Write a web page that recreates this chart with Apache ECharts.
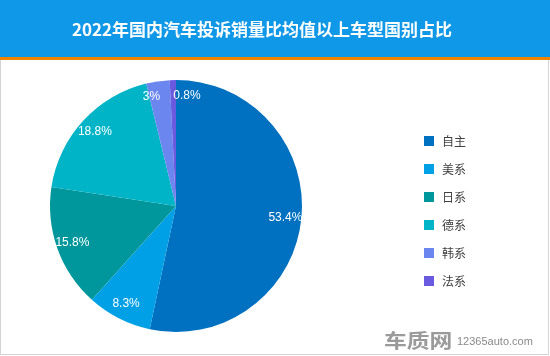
<!DOCTYPE html>
<html><head><meta charset="utf-8">
<script src="https://cdn.jsdelivr.net/npm/echarts@6/dist/echarts.min.js"></script>
<style>html,body{margin:0;padding:0;background:#fff}#c{width:550px;height:356px}</style>
</head><body><div id="c"></div>
<script>
const titleText = '2022年国内汽车投诉销量比均值以上车型国别占比';
const categories = ['自主', '美系', '日系', '德系', '韩系', '法系'];
const shares = [53.4, 8.3, 15.8, 18.8, 3, 0.8];
const colors = ['#0070c0', '#00a0e6', '#00979c', '#00b4c8', '#6b86ee', '#6a5ae0'];
// horizontal anchoring of each label relative to its slice: -1 right-aligned, 0 centred, 1 left-aligned
const labelAnchors = [0, 0, 0, 0, -1, 1];

const chart = echarts.init(document.getElementById('c'), null, {renderer: 'canvas'});
const pieData = categories.map((n, i) => ({name: n, value: shares[i], itemStyle: {color: colors[i]}}));
chart.setOption({
  animation: false,
  graphic: [
    {type: 'rect', shape: {x: 0, y: 0, width: 550, height: 57}, style: {fill: '#0f97e8'}},
    {type: 'rect', shape: {x: 0, y: 57, width: 550, height: 3}, style: {fill: '#f08300'}},
    {type: 'rect', shape: {x: 0, y: 60, width: 1, height: 295}, style: {fill: '#d4d4d4'}},
    {type: 'rect', shape: {x: 548, y: 60, width: 1, height: 295}, style: {fill: '#d4d4d4'}},
    {type: 'rect', shape: {x: 0, y: 354, width: 549, height: 1}, style: {fill: '#d4d4d4'}},
    {type: 'text', x: 262, y: 30, style: {text: titleText, fill: '#fff', font: 'bold 17px "Noto Sans CJK SC"', textAlign: 'center', textVerticalAlign: 'middle'}},
    {type: 'text', x: 384, y: 341, scaleX: 1.2, style: {text: '车质网', fill: '#9a9a9a', font: 'bold 19px "Noto Sans CJK SC"', textAlign: 'left', textVerticalAlign: 'middle'}},
    {type: 'text', x: 457, y: 342, style: {text: '12365auto.com', fill: '#8a8a8a', font: '11px "Liberation Sans"', textAlign: 'left', textVerticalAlign: 'middle'}}
  ],
  legend: {
    orient: 'vertical', left: 419, top: 130, itemWidth: 10, itemHeight: 10, itemGap: 16,
    icon: 'rect', data: categories,
    textStyle: {color: '#404040', fontSize: 12, fontFamily: '"Noto Sans CJK SC"', padding: [0, 0, 0, 3]}
  },
  series: [
    {
      type: 'pie', center: [176, 206], radius: [0, 126], startAngle: 90, clockwise: true,
      data: pieData, label: {show: false}, labelLine: {show: false},
      itemStyle: {borderWidth: 0}, emphasis: {disabled: true}, silent: true
    },
    {
      type: 'pie', center: [176, 206], radius: [90, 124], startAngle: 90, clockwise: true,
      data: categories.map((n, i) => ({name: n, value: shares[i]})),
      itemStyle: {color: 'rgba(0,0,0,0)', borderWidth: 0},
      label: {show: true, position: 'inside', formatter: '{c}%', color: '#fff', fontSize: 12, fontFamily: '"Liberation Sans"'},
      labelLayout: function (p) {
        return {hideOverlap: false, dx: labelAnchors[p.dataIndex] * p.labelRect.width / 2};
      },
      labelLine: {show: false}, emphasis: {disabled: true}, silent: true, legendHoverLink: false
    }
  ]
});
</script></body></html>
